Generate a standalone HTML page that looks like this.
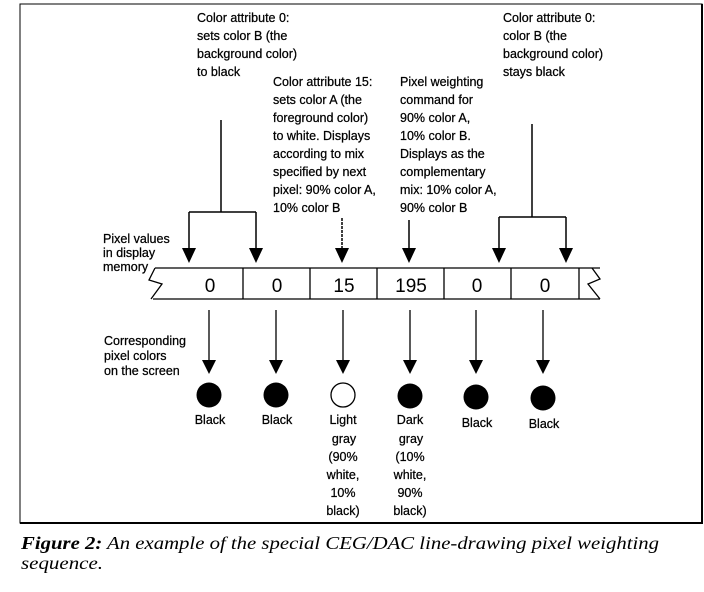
<!DOCTYPE html>
<html><head><meta charset="utf-8"><style>
body{margin:0;background:#fff;}
svg{display:block}
.t{font-family:"Liberation Sans",Arial,sans-serif;font-size:12.5px;fill:#000;stroke:#000;stroke-width:0.25}
.n{font-family:"Liberation Sans",Arial,sans-serif;font-size:19px;fill:#000}
.c{font-family:"Liberation Serif",serif;font-style:italic;font-size:18px;fill:#000}
</style></head><body>
<svg width="704" height="592" viewBox="0 0 704 592" xmlns="http://www.w3.org/2000/svg">
<rect width="704" height="592" fill="#fff"/>
<path d="M20 4 H702 V523 H20 Z" fill="none" stroke="#000" stroke-width="1"/>
<path d="M20 523 H702 V4" fill="none" stroke="#000" stroke-width="2"/>

<g class="t">
<text x="197" y="22">Color attribute 0:</text>
<text x="197" y="40">sets color B (the</text>
<text x="197" y="58">background color)</text>
<text x="197" y="76">to black</text>

<text x="273" y="86">Color attribute 15:</text>
<text x="273" y="104">sets color A (the</text>
<text x="273" y="122">foreground color)</text>
<text x="273" y="140">to white.  Displays</text>
<text x="273" y="158">according to mix</text>
<text x="273" y="176">specified by next</text>
<text x="273" y="194">pixel:  90% color A,</text>
<text x="273" y="212">10% color B</text>

<text x="400" y="86">Pixel weighting</text>
<text x="400" y="104">command for</text>
<text x="400" y="122">90% color A,</text>
<text x="400" y="140">10% color B.</text>
<text x="400" y="158">Displays as the</text>
<text x="400" y="176">complementary</text>
<text x="400" y="194">mix:  10% color A,</text>
<text x="400" y="212">90% color B</text>

<text x="503" y="22">Color attribute 0:</text>
<text x="503" y="40">color B (the</text>
<text x="503" y="58">background color)</text>
<text x="503" y="76">stays black</text>

<text x="103" y="243">Pixel values</text>
<text x="103" y="257">in display</text>
<text x="103" y="271">memory</text>

<text x="104" y="345">Corresponding</text>
<text x="104" y="360">pixel colors</text>
<text x="104" y="375">on the screen</text>
</g>

<g stroke="#000" stroke-width="1.5" fill="none">
<path d="M221 120 V212 M189 212 H256 M189 212 V250 M256 212 V250"/>
<path d="M532 124 V217 M499 217 H566 M499 217 V250 M566 217 V250"/>
<path d="M342 218 V250" stroke-dasharray="3,1"/>
<path d="M409 220 V250"/>
</g>
<g fill="#000">
<path d="M182 248 H196 L189 263 Z"/>
<path d="M249 248 H263 L256 263 Z"/>
<path d="M335 248 H349 L342 263 Z"/>
<path d="M402 248 H416 L409 263 Z"/>
<path d="M492 248 H506 L499 263 Z"/>
<path d="M559 248 H573 L566 263 Z"/>
</g>

<g stroke="#000" stroke-width="1.3" fill="none">
<path d="M155 268 H600 M153 299 H600"/>
<path d="M155 268 L149 280 L162 284 L151 299"/>
<path d="M592 268 L600 279 L588 284 L600 299"/>
<path d="M243 268 V299 M310 268 V299 M377 268 V299 M444 268 V299 M511 268 V299 M579 268 V299"/>
</g>
<g class="n" text-anchor="middle">
<text x="210" y="292">0</text>
<text x="277" y="292">0</text>
<text x="344" y="292">15</text>
<text x="411" y="292">195</text>
<text x="477" y="292">0</text>
<text x="545" y="292">0</text>
</g>

<g stroke="#000" stroke-width="1.3">
<path d="M209 310 V362 M276 310 V362 M343 310 V362 M410 310 V362 M476 310 V362 M543 310 V362"/>
</g>
<g fill="#000">
<path d="M202 360 H216 L209 374 Z"/>
<path d="M269 360 H283 L276 374 Z"/>
<path d="M336 360 H350 L343 374 Z"/>
<path d="M403 360 H417 L410 374 Z"/>
<path d="M469 360 H483 L476 374 Z"/>
<path d="M536 360 H550 L543 374 Z"/>
</g>
<circle cx="209" cy="395" r="12.5" fill="#000"/>
<circle cx="276" cy="395" r="12.5" fill="#000"/>
<circle cx="343" cy="395" r="12" fill="#fff" stroke="#000" stroke-width="1.3"/>
<circle cx="410" cy="396" r="12.5" fill="#000"/>
<circle cx="476" cy="397" r="12.5" fill="#000"/>
<circle cx="543" cy="398" r="12.5" fill="#000"/>

<g class="t" text-anchor="middle">
<text x="210" y="424">Black</text>
<text x="277" y="424">Black</text>
<text x="343" y="424">Light</text>
<text x="344" y="443">gray</text>
<text x="343" y="461">(90%</text>
<text x="343" y="479">white,</text>
<text x="343" y="497">10%</text>
<text x="343" y="515">black)</text>
<text x="410" y="424">Dark</text>
<text x="411" y="443">gray</text>
<text x="410" y="461">(10%</text>
<text x="410" y="479">white,</text>
<text x="410" y="497">90%</text>
<text x="410" y="515">black)</text>
<text x="477" y="427">Black</text>
<text x="544" y="428">Black</text>
</g>

<text class="c" x="21" y="549" textLength="638" lengthAdjust="spacingAndGlyphs"><tspan font-weight="bold">Figure 2:</tspan> An example of the special CEG/DAC line-drawing pixel weighting</text>
<text class="c" x="21" y="569" textLength="82" lengthAdjust="spacingAndGlyphs">sequence.</text>
</svg>
</body></html>
